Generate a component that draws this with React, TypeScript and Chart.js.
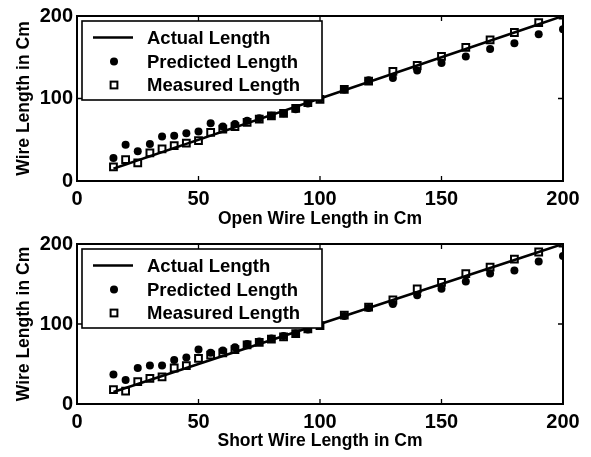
import React, { useEffect, useRef } from "react";
import { Chart, registerables } from "chart.js";

Chart.register(...registerables);

// ---- data ----
const wireLengths = [15, 20, 25, 30, 35, 40, 45, 50, 55, 60, 65, 70, 75, 80, 85, 90, 95, 100, 110, 120, 130, 140, 150, 160, 170, 180, 190, 200];
const actualLength = [15, 20, 25, 30, 35, 40, 45, 50, 55, 60, 65, 70, 75, 80, 85, 90, 95, 100, 110, 120, 130, 140, 150, 160, 170, 180, 190, 200];
const openPredicted = [28, 44, 36, 45, 54, 55, 58, 60, 70, 66, 69, 73, 76, 79, 82, 87, 94, 100, 111, 122, 125, 134, 143, 151, 160, 167, 178, 184];
const openMeasured = [17, 26, 22, 34, 39, 43, 46, 49, 59, 63, 66, 71, 75, 79, 82, 88, 95, 99, 111, 121, 133, 140, 151, 162, 171, 180, 192, 201];
const shortPredicted = [37, 30, 45, 48, 48, 55, 58, 68, 64, 67, 71, 75, 78, 82, 85, 88, 93, 98, 110, 120, 125, 136, 144, 153, 163, 167, 178, 185];
const shortMeasured = [18, 16, 28, 32, 34, 45, 48, 57, 61, 64, 68, 74, 77, 81, 84, 88, 94, 98, 111, 121, 130, 144, 152, 163, 171, 181, 190, 201];
const xTickStep = 50;
const yTickStep = 100;
const axisMin = 0;
const axisMax = 200;
const legendLabels = ["Actual Length", "Predicted Length", "Measured Length"];
const yTitle = "Wire Length in Cm";
const openTitle = "Open Wire Length in Cm";
const shortTitle = "Short Wire Length in Cm";

const FONT = "'Liberation Sans', Arial, Helvetica, sans-serif";

function makeFramePlugin() {
  return {
    id: "matlabFrame",
    afterDatasetsDraw(chart: any) {
      const { ctx, chartArea } = chart;
      const L = chartArea.left;
      const T = chartArea.top;
      ctx.save();
      // legend box
      ctx.fillStyle = "#fff";
      ctx.strokeStyle = "#000";
      ctx.lineWidth = 1.6;
      ctx.fillRect(L + 5, T + 5, 240, 79);
      ctx.strokeRect(L + 5, T + 5, 240, 79);
      const rows = [T + 21.5, T + 45.5, T + 69];
      const ds = chart.data.datasets;
      ctx.font = `bold 18.5px ${FONT}`;
      ctx.textBaseline = "middle";
      ctx.textAlign = "left";
      for (let i = 0; i < ds.length; i++) {
        const y = rows[i];
        const d = ds[i];
        if (i === 0) {
          ctx.strokeStyle = d.borderColor;
          ctx.lineWidth = d.borderWidth;
          ctx.beginPath();
          ctx.moveTo(L + 16, y);
          ctx.lineTo(L + 56, y);
          ctx.stroke();
        } else if (d.pointStyle === "circle") {
          ctx.fillStyle = d.backgroundColor;
          ctx.beginPath();
          ctx.arc(L + 37, y, d.pointRadius, 0, Math.PI * 2);
          ctx.fill();
        } else {
          const s = d.pointRadius * Math.SQRT1_2;
          ctx.fillStyle = d.backgroundColor;
          ctx.strokeStyle = d.borderColor;
          ctx.lineWidth = d.borderWidth;
          ctx.fillRect(L + 37 - s, y - s, 2 * s, 2 * s);
          ctx.strokeRect(L + 37 - s, y - s, 2 * s, 2 * s);
        }
        ctx.fillStyle = "#000";
        ctx.fillText(d.label, L + 70, y + 1);
      }
      ctx.restore();
    },
    afterDraw(chart: any) {
      const { ctx, chartArea } = chart;
      const { left, right, top, bottom } = chartArea;
      ctx.save();
      ctx.strokeStyle = "#000";
      ctx.lineWidth = 2;
      ctx.strokeRect(left, top, right - left, bottom - top);
      ctx.lineWidth = 1.3;
      const tl = 5;
      const xs = chart.scales.x;
      const ys = chart.scales.y;
      ctx.beginPath();
      xs.ticks.forEach((t: any) => {
        if (t.value <= axisMin || t.value >= axisMax) return;
        const px = xs.getPixelForValue(t.value);
        ctx.moveTo(px, bottom);
        ctx.lineTo(px, bottom - tl);
        ctx.moveTo(px, top);
        ctx.lineTo(px, top + tl);
      });
      ys.ticks.forEach((t: any) => {
        if (t.value <= axisMin || t.value >= axisMax) return;
        const py = ys.getPixelForValue(t.value);
        ctx.moveTo(left, py);
        ctx.lineTo(left + tl, py);
        ctx.moveTo(right, py);
        ctx.lineTo(right - tl, py);
      });
      ctx.stroke();
      ctx.restore();
    },
  };
}

type PanelProps = {
  height: number;
  xTitle: string;
  predicted: number[];
  measured: number[];
  xAxisHeight: number;
  bottomPad: number;
};

function Panel({ height, xTitle, predicted, measured, xAxisHeight, bottomPad }: PanelProps) {
  const ref = useRef<HTMLCanvasElement>(null);
  useEffect(() => {
    if (!ref.current) return;
    const pts = (ys: number[]) => wireLengths.map((x, i) => ({ x, y: ys[i] }));
    const chart = new Chart(ref.current, {
      type: "scatter",
      data: {
        datasets: [
          {
            label: legendLabels[0],
            data: pts(actualLength),
            showLine: true,
            borderColor: "#000",
            backgroundColor: "#000",
            borderWidth: 2.5,
            pointRadius: 0,
          } as any,
          {
            label: legendLabels[1],
            data: pts(predicted),
            pointStyle: "circle",
            pointRadius: 4,
            backgroundColor: "#000",
            borderColor: "#000",
            borderWidth: 0,
          },
          {
            label: legendLabels[2],
            data: pts(measured),
            pointStyle: "rect",
            pointRadius: 4.8,
            backgroundColor: "#fff",
            borderColor: "#000",
            borderWidth: 2,
          },
        ],
      },
      options: {
        animation: false,
        responsive: false,
        devicePixelRatio: 1,
        events: [],
        layout: { padding: { left: 0, right: 28, top: 15, bottom: bottomPad } },
        plugins: {
          legend: { display: false },
          tooltip: { enabled: false },
        },
        scales: {
          x: {
            type: "linear",
            min: axisMin,
            max: axisMax,
            grid: { display: false, drawTicks: false, tickLength: 0 },
            border: { display: false },
            ticks: {
              stepSize: xTickStep,
              color: "#000",
              padding: 6,
              maxRotation: 0,
              font: { family: FONT, size: 20, weight: "bold" },
            },
            title: {
              display: true,
              text: xTitle,
              color: "#000",
              padding: { top: 0, bottom: 0 },
              font: { family: FONT, size: 17.5, weight: "bold", lineHeight: 1 },
            },
            afterFit: (s: any) => {
              s.height = xAxisHeight;
            },
          },
          y: {
            type: "linear",
            min: axisMin,
            max: axisMax,
            grid: { display: false, drawTicks: false, tickLength: 0 },
            border: { display: false },
            ticks: {
              stepSize: yTickStep,
              color: "#000",
              padding: 4,
              font: { family: FONT, size: 20, weight: "bold" },
            },
            title: {
              display: true,
              text: yTitle,
              color: "#000",
              padding: { top: 15, bottom: 0 },
              font: { family: FONT, size: 17.5, weight: "bold", lineHeight: 1 },
            },
            afterFit: (s: any) => {
              s.width = 77;
            },
          },
        },
      } as any,
      plugins: [makeFramePlugin()],
    });
    return () => chart.destroy();
  }, []);
  return <canvas ref={ref} width={591} height={height} style={{ display: "block" }} />;
}

export default function App() {
  return (
    <div style={{ position: "absolute", left: 0, top: 0, width: 591, height: 457, background: "#fff" }}>
      <Panel height={228} xTitle={openTitle} predicted={openPredicted} measured={openMeasured} xAxisHeight={47} bottomPad={0} />
      <Panel height={229} xTitle={shortTitle} predicted={shortPredicted} measured={shortMeasured} xAxisHeight={46} bottomPad={7} />
    </div>
  );
}
